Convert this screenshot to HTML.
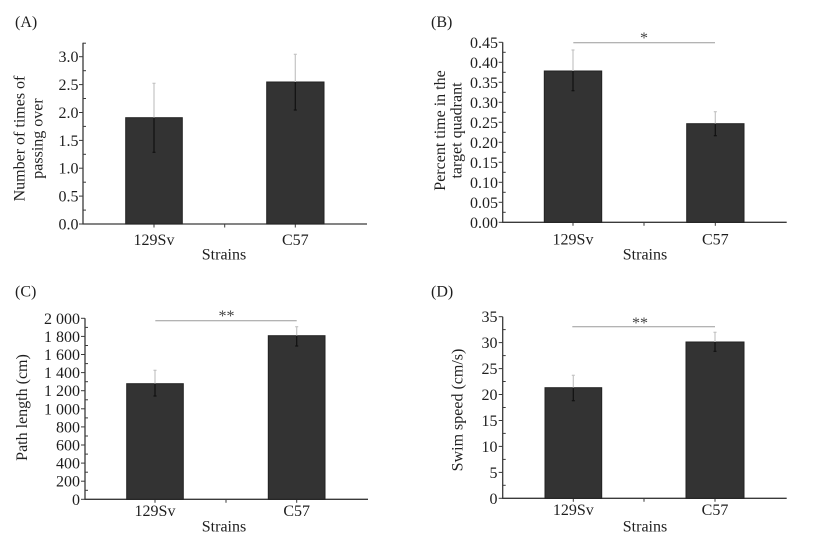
<!DOCTYPE html>
<html><head><meta charset="utf-8"><style>
html,body{margin:0;padding:0;background:#fff;}
svg{display:block;}
text{font-family:"Liberation Serif","Times New Roman",serif;fill:#1e1e1e;font-size:16px;}
.ax{stroke:#3a3a3a;stroke-width:1.3;fill:none;}
.tk{stroke:#3a3a3a;stroke-width:1;}
.bar{fill:#333;stroke:#222;stroke-width:1;}
.el{stroke:#c4c4c4;stroke-width:1.2;}
.ed{stroke:#111;stroke-width:1.2;}
.sg{stroke:#9a9a9a;stroke-width:1;}
</style></head><body>
<svg width="818" height="542" viewBox="0 0 818 542" xmlns="http://www.w3.org/2000/svg">

<!-- ========== Panel A ========== -->
<text x="15" y="27">(A)</text>
<line class="ax" x1="83" y1="42.7" x2="83" y2="224"/>
<line class="ax" x1="82.4" y1="224" x2="367" y2="224"/>
<g class="tk">
<line x1="79" y1="224" x2="83" y2="224"/><line x1="79" y1="196.1" x2="83" y2="196.1"/><line x1="79" y1="168.2" x2="83" y2="168.2"/><line x1="79" y1="140.4" x2="83" y2="140.4"/><line x1="79" y1="112.5" x2="83" y2="112.5"/><line x1="79" y1="84.6" x2="83" y2="84.6"/><line x1="79" y1="56.7" x2="83" y2="56.7"/>
<line x1="83" y1="210.1" x2="86" y2="210.1"/><line x1="83" y1="182.2" x2="86" y2="182.2"/><line x1="83" y1="154.3" x2="86" y2="154.3"/><line x1="83" y1="126.4" x2="86" y2="126.4"/><line x1="83" y1="98.5" x2="86" y2="98.5"/><line x1="83" y1="70.7" x2="86" y2="70.7"/><line x1="83" y1="43.2" x2="86" y2="43.2"/>
<line x1="154" y1="224" x2="154" y2="227.5"/><line x1="224.7" y1="224" x2="224.7" y2="227.5"/><line x1="295.3" y1="224" x2="295.3" y2="227.5"/>
</g>
<g text-anchor="end">
<text x="78.5" y="229.5">0.0</text><text x="78.5" y="201.6">0.5</text><text x="78.5" y="173.7">1.0</text><text x="78.5" y="145.9">1.5</text><text x="78.5" y="118">2.0</text><text x="78.5" y="90.1">2.5</text><text x="78.5" y="62.2">3.0</text>
</g>
<rect class="bar" x="125.7" y="117.7" width="56.6" height="106.3"/>
<rect class="bar" x="266.7" y="82" width="57.3" height="142"/>
<line class="el" x1="154" y1="83.3" x2="154" y2="117.7"/><line class="el" x1="152.5" y1="83.3" x2="155.5" y2="83.3"/>
<line class="ed" x1="154" y1="117.7" x2="154" y2="152.3"/><line class="ed" x1="152.5" y1="152.3" x2="155.5" y2="152.3"/>
<line class="el" x1="295.3" y1="54.3" x2="295.3" y2="82"/><line class="el" x1="293.8" y1="54.3" x2="296.8" y2="54.3"/>
<line class="ed" x1="295.3" y1="82" x2="295.3" y2="110"/><line class="ed" x1="293.8" y1="110" x2="296.8" y2="110"/>
<g text-anchor="middle">
<text x="154" y="245">129Sv</text><text x="295.3" y="245">C57</text>
<text x="224" y="259.5">Strains</text>
<text transform="translate(24.5,138.5) rotate(-90)">Number of times of</text>
<text transform="translate(42.5,138.5) rotate(-90)">passing over</text>
</g>

<!-- ========== Panel B ========== -->
<text x="431" y="27">(B)</text>
<line class="ax" x1="502.7" y1="42.3" x2="502.7" y2="222.3"/>
<line class="ax" x1="502.1" y1="222.3" x2="786.7" y2="222.3"/>
<g class="tk">
<line x1="498.7" y1="222.3" x2="502.7" y2="222.3"/><line x1="498.7" y1="202.3" x2="502.7" y2="202.3"/><line x1="498.7" y1="182.3" x2="502.7" y2="182.3"/><line x1="498.7" y1="162.3" x2="502.7" y2="162.3"/><line x1="498.7" y1="142.3" x2="502.7" y2="142.3"/><line x1="498.7" y1="122.3" x2="502.7" y2="122.3"/><line x1="498.7" y1="102.3" x2="502.7" y2="102.3"/><line x1="498.7" y1="82.3" x2="502.7" y2="82.3"/><line x1="498.7" y1="62.3" x2="502.7" y2="62.3"/><line x1="498.7" y1="42.3" x2="502.7" y2="42.3"/>
<line x1="502.7" y1="212.3" x2="505.7" y2="212.3"/><line x1="502.7" y1="192.3" x2="505.7" y2="192.3"/><line x1="502.7" y1="172.3" x2="505.7" y2="172.3"/><line x1="502.7" y1="152.3" x2="505.7" y2="152.3"/><line x1="502.7" y1="132.3" x2="505.7" y2="132.3"/><line x1="502.7" y1="112.3" x2="505.7" y2="112.3"/><line x1="502.7" y1="92.3" x2="505.7" y2="92.3"/><line x1="502.7" y1="72.3" x2="505.7" y2="72.3"/><line x1="502.7" y1="52.3" x2="505.7" y2="52.3"/>
<line x1="573" y1="222.3" x2="573" y2="225.8"/><line x1="644" y1="222.3" x2="644" y2="225.8"/><line x1="715.3" y1="222.3" x2="715.3" y2="225.8"/>
</g>
<g text-anchor="end">
<text x="498" y="227.8">0.00</text><text x="498" y="207.8">0.05</text><text x="498" y="187.8">0.10</text><text x="498" y="167.8">0.15</text><text x="498" y="147.8">0.20</text><text x="498" y="127.8">0.25</text><text x="498" y="107.8">0.30</text><text x="498" y="87.8">0.35</text><text x="498" y="67.8">0.40</text><text x="498" y="47.8">0.45</text>
</g>
<rect class="bar" x="544.3" y="71" width="57.4" height="151.3"/>
<rect class="bar" x="686.7" y="123.7" width="57.3" height="98.6"/>
<line class="el" x1="573" y1="50" x2="573" y2="71"/><line class="el" x1="571.5" y1="50" x2="574.5" y2="50"/>
<line class="ed" x1="573" y1="71" x2="573" y2="90.7"/><line class="ed" x1="571.5" y1="90.7" x2="574.5" y2="90.7"/>
<line class="el" x1="715.3" y1="111.7" x2="715.3" y2="123.7"/><line class="el" x1="713.8" y1="111.7" x2="716.8" y2="111.7"/>
<line class="ed" x1="715.3" y1="123.7" x2="715.3" y2="135.7"/><line class="ed" x1="713.8" y1="135.7" x2="716.8" y2="135.7"/>
<line class="sg" x1="573.3" y1="42.7" x2="715" y2="42.7"/>
<g text-anchor="middle">
<text x="644" y="43" style="fill:#444">*</text>
<text x="573" y="244.3">129Sv</text><text x="715.3" y="244.3">C57</text>
<text x="645" y="259.5">Strains</text>
<text transform="translate(445,130.5) rotate(-90)">Percent time in the</text>
<text transform="translate(461.5,130.5) rotate(-90)">target quadrant</text>
</g>

<!-- ========== Panel C ========== -->
<text x="15" y="296.5">(C)</text>
<line class="ax" x1="85" y1="318.3" x2="85" y2="499.3"/>
<line class="ax" x1="84.4" y1="499.3" x2="368" y2="499.3"/>
<g class="tk">
<line x1="81" y1="499.3" x2="85" y2="499.3"/><line x1="81" y1="481.2" x2="85" y2="481.2"/><line x1="81" y1="463.1" x2="85" y2="463.1"/><line x1="81" y1="445" x2="85" y2="445"/><line x1="81" y1="426.9" x2="85" y2="426.9"/><line x1="81" y1="408.8" x2="85" y2="408.8"/><line x1="81" y1="390.7" x2="85" y2="390.7"/><line x1="81" y1="372.6" x2="85" y2="372.6"/><line x1="81" y1="354.5" x2="85" y2="354.5"/><line x1="81" y1="336.4" x2="85" y2="336.4"/><line x1="81" y1="318.3" x2="85" y2="318.3"/>
<line x1="85" y1="490.3" x2="88" y2="490.3"/><line x1="85" y1="472.2" x2="88" y2="472.2"/><line x1="85" y1="454.1" x2="88" y2="454.1"/><line x1="85" y1="436" x2="88" y2="436"/><line x1="85" y1="417.9" x2="88" y2="417.9"/><line x1="85" y1="399.8" x2="88" y2="399.8"/><line x1="85" y1="381.7" x2="88" y2="381.7"/><line x1="85" y1="363.6" x2="88" y2="363.6"/><line x1="85" y1="345.5" x2="88" y2="345.5"/><line x1="85" y1="327.4" x2="88" y2="327.4"/>
<line x1="155" y1="499.3" x2="155" y2="502.8"/><line x1="226" y1="499.3" x2="226" y2="502.8"/><line x1="296.7" y1="499.3" x2="296.7" y2="502.8"/>
</g>
<g text-anchor="end">
<text x="80" y="504.8">0</text><text x="80" y="486.7">200</text><text x="80" y="468.6">400</text><text x="80" y="450.5">600</text><text x="80" y="432.4">800</text><text x="80" y="414.3">1 000</text><text x="80" y="396.2">1 200</text><text x="80" y="378.1">1 400</text><text x="80" y="360">1 600</text><text x="80" y="341.9">1 800</text><text x="80" y="323.8">2 000</text>
</g>
<rect class="bar" x="126.7" y="383.7" width="56.6" height="115.6"/>
<rect class="bar" x="268.3" y="335.7" width="56.7" height="163.6"/>
<line class="el" x1="155" y1="370.3" x2="155" y2="383.7"/><line class="el" x1="153.5" y1="370.3" x2="156.5" y2="370.3"/>
<line class="ed" x1="155" y1="383.7" x2="155" y2="396"/><line class="ed" x1="153.5" y1="396" x2="156.5" y2="396"/>
<line class="el" x1="296.7" y1="326.7" x2="296.7" y2="335.7"/><line class="el" x1="295.2" y1="326.7" x2="298.2" y2="326.7"/>
<line class="ed" x1="296.7" y1="335.7" x2="296.7" y2="346"/><line class="ed" x1="295.2" y1="346" x2="298.2" y2="346"/>
<line class="sg" x1="155.3" y1="320.7" x2="296.7" y2="320.7"/>
<g text-anchor="middle">
<text x="226.5" y="321" style="fill:#444">**</text>
<text x="155" y="516">129Sv</text><text x="296.7" y="516">C57</text>
<text x="224" y="531.5">Strains</text>
<text transform="translate(27,407.5) rotate(-90)">Path length (cm)</text>
</g>

<!-- ========== Panel D ========== -->
<text x="431" y="296.5">(D)</text>
<line class="ax" x1="502.7" y1="316.7" x2="502.7" y2="498.3"/>
<line class="ax" x1="502.1" y1="498.3" x2="786.7" y2="498.3"/>
<g class="tk">
<line x1="498.7" y1="498.3" x2="502.7" y2="498.3"/><line x1="498.7" y1="472.4" x2="502.7" y2="472.4"/><line x1="498.7" y1="446.4" x2="502.7" y2="446.4"/><line x1="498.7" y1="420.5" x2="502.7" y2="420.5"/><line x1="498.7" y1="394.5" x2="502.7" y2="394.5"/><line x1="498.7" y1="368.6" x2="502.7" y2="368.6"/><line x1="498.7" y1="342.6" x2="502.7" y2="342.6"/><line x1="498.7" y1="316.7" x2="502.7" y2="316.7"/>
<line x1="502.7" y1="485.3" x2="505.7" y2="485.3"/><line x1="502.7" y1="459.4" x2="505.7" y2="459.4"/><line x1="502.7" y1="433.4" x2="505.7" y2="433.4"/><line x1="502.7" y1="407.5" x2="505.7" y2="407.5"/><line x1="502.7" y1="381.5" x2="505.7" y2="381.5"/><line x1="502.7" y1="355.6" x2="505.7" y2="355.6"/><line x1="502.7" y1="329.6" x2="505.7" y2="329.6"/>
<line x1="573.3" y1="498.3" x2="573.3" y2="501.8"/><line x1="644" y1="498.3" x2="644" y2="501.8"/><line x1="715" y1="498.3" x2="715" y2="501.8"/>
</g>
<g text-anchor="end">
<text x="497.5" y="503.8">0</text><text x="497.5" y="477.9">5</text><text x="497.5" y="451.9">10</text><text x="497.5" y="426">15</text><text x="497.5" y="400">20</text><text x="497.5" y="374.1">25</text><text x="497.5" y="348.1">30</text><text x="497.5" y="322.2">35</text>
</g>
<rect class="bar" x="545" y="387.7" width="56.7" height="110.6"/>
<rect class="bar" x="686" y="342" width="58" height="156.3"/>
<line class="el" x1="573.3" y1="375.3" x2="573.3" y2="387.7"/><line class="el" x1="571.8" y1="375.3" x2="574.8" y2="375.3"/>
<line class="ed" x1="573.3" y1="387.7" x2="573.3" y2="400.7"/><line class="ed" x1="571.8" y1="400.7" x2="574.8" y2="400.7"/>
<line class="el" x1="715" y1="332.3" x2="715" y2="342"/><line class="el" x1="713.5" y1="332.3" x2="716.5" y2="332.3"/>
<line class="ed" x1="715" y1="342" x2="715" y2="351.3"/><line class="ed" x1="713.5" y1="351.3" x2="716.5" y2="351.3"/>
<line class="sg" x1="572.3" y1="326.7" x2="715" y2="326.7"/>
<g text-anchor="middle">
<text x="640" y="328" style="fill:#444">**</text>
<text x="573.3" y="515">129Sv</text><text x="715" y="515">C57</text>
<text x="645" y="531.5">Strains</text>
<text transform="translate(462.5,410) rotate(-90)">Swim speed (cm/s)</text>
</g>
</svg>
</body></html>
